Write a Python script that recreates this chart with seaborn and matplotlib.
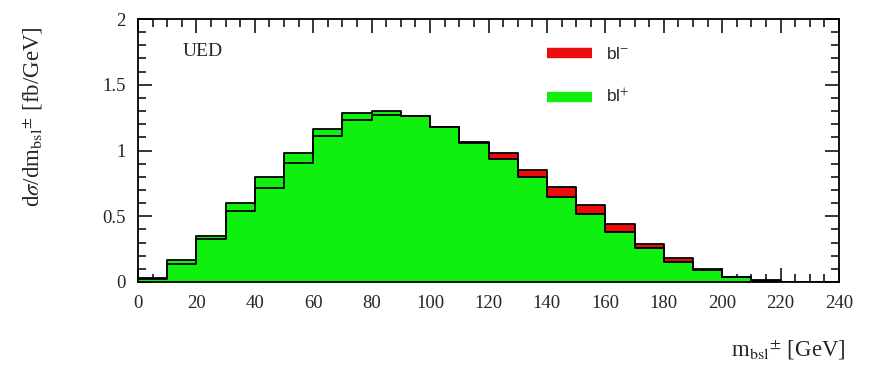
#!/usr/bin/env python3

import numpy as np
import pandas as pd
import matplotlib
matplotlib.use("Agg")
import matplotlib.pylab as plt
from matplotlib.lines import Line2D
from matplotlib.ticker import MultipleLocator
import seaborn as sns

# Bin edges of the m_bsl distribution (GeV)
bin_edges = list(range(0, 250, 10))
bin_centers = [e + 5 for e in bin_edges[:-1]]

# dsigma/dm per bin [fb/GeV]
bl_minus = [0.025, 0.135, 0.325, 0.54, 0.717, 0.907, 1.11, 1.232, 1.27, 1.265,
            1.176, 1.067, 0.979, 0.852, 0.72, 0.583, 0.439, 0.289, 0.18, 0.099,
            0.035, 0.018, 0.0, 0.0]
bl_plus = [0.028, 0.167, 0.352, 0.598, 0.80, 0.979, 1.163, 1.283, 1.30, 1.262,
           1.176, 1.055, 0.933, 0.80, 0.649, 0.515, 0.378, 0.256, 0.15, 0.089,
           0.04, 0.01, 0.0, 0.0]

series_labels = ["bl$^{-}$", "bl$^{+}$"]
red = "#ec0c0c"
green = "#10f010"

sns.set_style("ticks")
plt.rcParams["font.family"] = ["Liberation Serif", "DejaVu Serif"]
plt.rcParams["mathtext.fontset"] = "stix"

df = pd.DataFrame({
    "m": bin_centers * 2,
    "weight": bl_minus + bl_plus,
    "sign": ["minus"] * len(bin_centers) + ["plus"] * len(bin_centers),
})
df_minus = df[df.sign == "minus"]
df_plus = df[df.sign == "plus"]

fig = plt.figure(figsize=(8.73, 3.66), dpi=100)
ax = fig.add_axes([138 / 873, 1 - 282 / 366, 701 / 873, 263 / 366])

# fills first: red behind, green on top
for sub, col in [(df_minus, red), (df_plus, green)]:
    sns.histplot(sub, x="m", weights="weight", bins=bin_edges, element="step",
                 fill=True, color=col, alpha=1, linewidth=0, ax=ax)
# then black outlines of both on top
for sub in [df_minus, df_plus]:
    sns.histplot(sub, x="m", weights="weight", bins=bin_edges, element="step",
                 fill=False, color="black", linewidth=1.3, ax=ax)

ax.set_xlim(0, 240)
ax.set_ylim(0, 2)
ax.xaxis.set_major_locator(MultipleLocator(20))
ax.xaxis.set_minor_locator(MultipleLocator(5))
ax.yaxis.set_major_locator(MultipleLocator(0.5))
ax.yaxis.set_minor_locator(MultipleLocator(0.1))
ax.yaxis.set_major_formatter(plt.FuncFormatter(lambda v, p: f"{v:g}"))
ax.tick_params(which="both", direction="in", top=True, right=True,
               color="black", width=1.1)
ax.tick_params(which="major", length=10, labelsize=13.5, pad=9)
ax.tick_params(which="minor", length=6)
for s in ax.spines.values():
    s.set_visible(True)
    s.set_color("black")
    s.set_linewidth(1.3)
ax.set_xlabel("")
ax.set_ylabel("")

fig.text(33 / 873, 1 - 117 / 366,
         r"d$\sigma$/dm$_{\rm bsl}$$^{\pm}$ [fb/GeV]",
         rotation=90, ha="center", va="center", fontsize=16.5)
fig.text(846 / 873, 1 - 350 / 366, r"m$_{\rm bsl}$$^{\pm}$ [GeV]",
         ha="right", va="center", fontsize=16.5)
ax.text(183 / 873, 1 - 52 / 366, "UED", transform=fig.transFigure,
        ha="left", va="center", fontsize=14)

handles = [Line2D([0], [0], color=red, lw=7.5, solid_capstyle="butt"),
           Line2D([0], [0], color=green, lw=7.5, solid_capstyle="butt")]
leg = ax.legend(handles, series_labels, loc="upper left",
                bbox_to_anchor=(547 / 873, 1 - 46 / 366),
                bbox_transform=fig.transFigure, frameon=False,
                handlelength=2.6, handletextpad=0.8, labelspacing=1.45,
                borderpad=0, borderaxespad=0,
                prop={"family": "Liberation Sans", "size": 12.5})

plt.savefig("out.png", dpi=100)
